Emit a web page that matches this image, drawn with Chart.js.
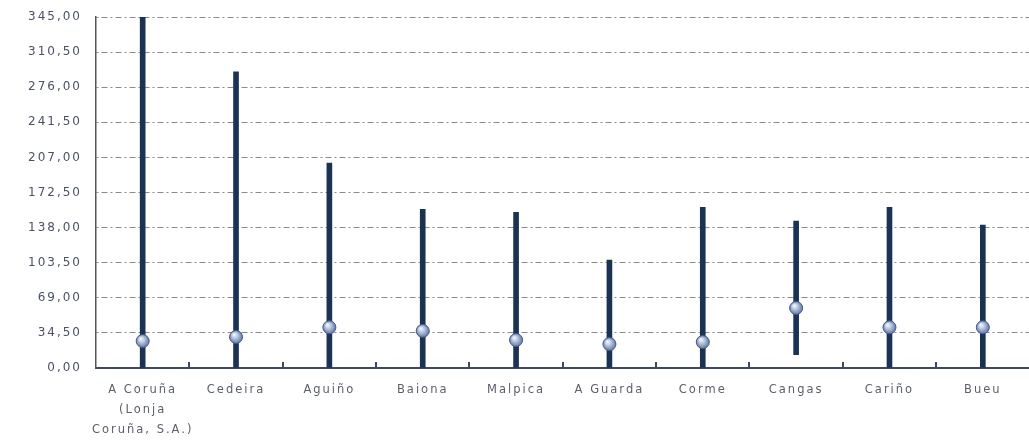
<!DOCTYPE html>
<html>
<head>
<meta charset="utf-8">
<script src="https://cdn.jsdelivr.net/npm/chart.js@4/dist/chart.umd.min.js"></script>
<style>
html,body{margin:0;padding:0;background:#fff;overflow:hidden;}
#wrap{width:1037px;height:442px;position:relative;}
</style>
</head>
<body>
<div id="wrap"><canvas id="c"></canvas></div>
<script>
const categories = [["A Coruña","(Lonja","Coruña, S.A.)"],"Cedeira","Aguiño","Baiona","Malpica","A Guarda","Corme","Cangas","Cariño","Bueu"];
const minValues = [0,0,0,0,0,0,0,13,0,0];
const maxValues = [345,291,201.5,156,153,106,158,144.5,158,140.5];
const avgValues = [26.5,30.5,40,36.5,27.5,23.5,25.5,59,40,40];
const yMin = 0, yMax = 345, yStep = 34.5;

const ranges = minValues.map((v,i)=>[v,maxValues[i]]);

const spacing = {
  id:'spacing',
  beforeDraw(chart){ chart.ctx.letterSpacing = '2px'; },
  beforeDatasetsDraw(chart){ chart.ctx.letterSpacing = '0px'; }
};

const upTicks = {
  id:'upTicks',
  afterDatasetsDraw(chart){
    const x = chart.scales.x, ctx = chart.ctx, bottom = chart.chartArea.bottom;
    const half = (x.getPixelForValue(1)-x.getPixelForValue(0))/2;
    ctx.save();
    ctx.strokeStyle = '#3a4a60';
    ctx.lineWidth = 2;
    for(let i=0;i<categories.length;i++){
      const p = Math.round(x.getPixelForValue(i) + half);
      ctx.beginPath();
      ctx.moveTo(p,bottom);
      ctx.lineTo(p,bottom-6);
      ctx.stroke();
    }
    ctx.restore();
  }
};

function sphere(context){
  const chart = context.chart;
  const xs = chart.scales.x, ys = chart.scales.y;
  if(!xs || !ys || context.raw === undefined) return '#a7b7d6';
  const x = xs.getPixelForValue(context.dataIndex);
  const y = ys.getPixelForValue(context.raw);
  if(!isFinite(x) || !isFinite(y)) return '#a7b7d6';
  const g = chart.ctx.createRadialGradient(x-2,y-2.5,0.5,x,y,7);
  g.addColorStop(0,'#f4f7fc');
  g.addColorStop(0.45,'#aebfdd');
  g.addColorStop(1,'#5a6f9b');
  return g;
}

new Chart(document.getElementById('c'),{
  data:{
    labels:categories,
    datasets:[
      {type:'line',data:avgValues,showLine:false,pointRadius:6.5,pointHoverRadius:6.5,
       pointBackgroundColor:sphere,pointBorderColor:'#44598a',pointBorderWidth:1,order:0},
      {type:'bar',data:ranges,backgroundColor:'#1c3253',borderWidth:0,barThickness:5,borderSkipped:false,order:1}
    ]
  },
  plugins:[spacing,upTicks],
  options:{
    responsive:true,maintainAspectRatio:false,animation:false,
    layout:{padding:{top:17,right:0,left:0,bottom:0}},
    plugins:{legend:{display:false},tooltip:{enabled:false}},
    scales:{
      x:{
        offset:true,
        grid:{display:true,drawOnChartArea:false,drawTicks:true,tickLength:0,color:'rgba(0,0,0,0)'},
        border:{display:true,color:'#3d4a5c',width:2},
        ticks:{color:'#5a5f6a',font:{family:'DejaVu Sans',size:11.5,lineHeight:1.75},padding:12,maxRotation:0,autoSkip:false},
        afterFit(s){s.height=74;}
      },
      y:{
        min:yMin,max:yMax,
        grid:{color:'#8a8a8a',lineWidth:1,drawTicks:false},
        border:{display:true,color:'#555',width:1.5,dash:[2,3,6,3]},
        ticks:{stepSize:yStep,color:'#4a5263',font:{family:'DejaVu Sans',size:12},padding:14,
          callback:(v)=>Number(v).toFixed(2).replace('.',',')},
        afterFit(s){s.width=96; s.paddingTop=0; s.paddingBottom=0;}
      }
    }
  }
});
</script>
</body>
</html>
